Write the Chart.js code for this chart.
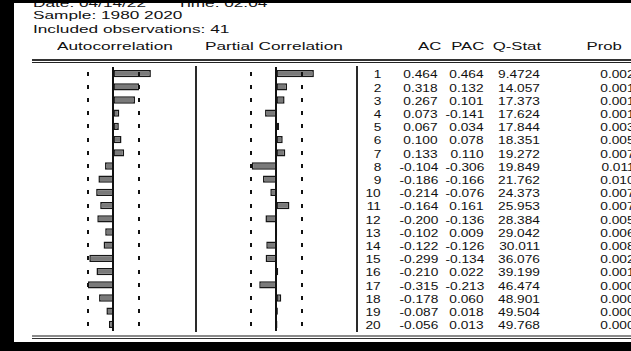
<!DOCTYPE html>
<html>
<head>
<meta charset="utf-8">
<script src="https://cdn.jsdelivr.net/npm/chart.js@4/dist/chart.umd.min.js"></script>
<style>
  html, body { margin: 0; padding: 0; }
  body { position: relative; width: 631px; height: 351px; overflow: hidden; background: #fff; }
  .band { position: absolute; background: #000; z-index: 10; }
  .t { position: absolute; white-space: nowrap; font-family: "Liberation Sans", Arial, sans-serif; color: #111; }
  .title { font-size: 11.8px; line-height: 14px; transform: scaleX(1.46); transform-origin: left center; }
  .head { font-size: 11.8px; line-height: 14px; transform: scaleX(1.42); }
  .num { font-size: 11.4px; line-height: 13.2px; transform: scaleX(1.2); transform-origin: right center; }
  .rule { position: absolute; }
  canvas { position: absolute; }
</style>
</head>
<body>
<canvas id="acChart" width="113" height="264" style="left:65px; top:67px;"></canvas>
<canvas id="pacChart" width="113" height="264" style="left:228px; top:67px;"></canvas>
<div id="text"></div>
<script>
// Correlogram: lags, autocorrelations, partial autocorrelations, Q statistics and p-values
const lags = [1, 2, 3, 4, 5, 6, 7, 8, 9, 10, 11, 12, 13, 14, 15, 16, 17, 18, 19, 20];
const ac = [0.464, 0.318, 0.267, 0.073, 0.067, 0.100, 0.133, -0.104, -0.186, -0.214,
            -0.164, -0.200, -0.102, -0.122, -0.299, -0.210, -0.315, -0.178, -0.087, -0.056];
const pac = [0.464, 0.132, 0.101, -0.141, 0.034, 0.078, 0.110, -0.306, -0.166, -0.076,
             0.161, -0.136, 0.009, -0.126, -0.134, 0.022, -0.213, 0.060, 0.018, 0.013];
const qStat = [9.4724, 14.057, 17.373, 17.624, 17.844, 18.351, 19.272, 19.849, 21.762, 24.373,
               25.953, 28.384, 29.042, 30.011, 36.076, 39.199, 46.474, 48.901, 49.504, 49.768];
const prob = [0.002, 0.001, 0.001, 0.001, 0.003, 0.005, 0.007, 0.011, 0.010, 0.007,
              0.007, 0.005, 0.006, 0.008, 0.002, 0.001, 0.000, 0.000, 0.000, 0.000];
const headerLines = ['Sample: 1980 2020', 'Included observations: 41'];
const columnHeads = ['AC', 'PAC', 'Q-Stat', 'Prob'];
const observations = 41;
// approximate 2 standard error band
const bound = 2 / Math.sqrt(observations);

// zero line and dashed confidence marks, placed with the chart's own scales
const guides = {
  id: 'guides',
  afterDatasetsDraw(chart) {
    const { ctx, chartArea, scales: { x, y } } = chart;
    ctx.save();
    ctx.fillStyle = '#111';
    const x0 = Math.round(x.getPixelForValue(0));
    ctx.fillRect(x0 - 1, chartArea.top, 2, chartArea.bottom - chartArea.top);
    for (let i = 0; i < lags.length; i++) {
      const yc = y.getPixelForValue(i);
      for (const b of [-bound, bound]) {
        const xb = Math.round(x.getPixelForValue(b));
        ctx.fillRect(xb - 1, Math.round(yc - 2), 2, 4);
      }
    }
    ctx.restore();
  }
};

function barChart(id, values) {
  return new Chart(document.getElementById(id), {
    type: 'bar',
    data: {
      labels: lags,
      datasets: [{
        data: values,
        backgroundColor: '#7a7a7a',
        borderColor: '#161616',
        borderWidth: 1.5,
        borderSkipped: false,
        barPercentage: 0.55,
        categoryPercentage: 1
      }]
    },
    options: {
      indexAxis: 'y',
      responsive: false,
      animation: false,
      devicePixelRatio: 1,
      layout: { padding: 0 },
      plugins: { legend: { display: false }, tooltip: { enabled: false } },
      scales: {
        x: { type: 'linear', min: -0.6, max: 0.8, display: false },
        y: { display: false }
      }
    },
    plugins: [guides]
  });
}

barChart('acChart', ac);
barChart('pacChart', pac);

// text and rules of the table
const host = document.getElementById('text');
function el(cls, text, style) {
  const d = document.createElement('div');
  d.className = cls;
  if (text !== null) d.textContent = text;
  Object.assign(d.style, style);
  host.appendChild(d);
  return d;
}

el('t title', 'Date: 04/14/22', { left: '33px', top: '-4px' });
el('t title', 'Time: 02:04', { left: '177px', top: '-4px' });
el('t title', headerLines[0], { left: '33px', top: '8px' });
el('t title', headerLines[1], { left: '33px', top: '22px' });
el('t title', 'Autocorrelation', { left: '57px', top: '39px' });
el('t title', 'Partial Correlation', { left: '205px', top: '39px' });

const headRight = [441, 484, 541, 622];
columnHeads.forEach((h, k) => {
  el('t head', h, { right: (631 - headRight[k]) + 'px', top: '39px', transformOrigin: 'right center' });
});

// double rules above and below the table
el('rule', null, { left: '32px', top: '59px', width: '599px', height: '1.5px', background: '#333' });
el('rule', null, { left: '32px', top: '62px', width: '599px', height: '1px', background: '#222' });
el('rule', null, { left: '32px', top: '335px', width: '599px', height: '2px', background: '#8a8a8a' });
el('rule', null, { left: '32px', top: '338px', width: '599px', height: '1px', background: '#333' });
// column separators
el('rule', null, { left: '195px', top: '66px', width: '2px', height: '266px', background: '#2a2a2a' });
el('rule', null, { left: '356px', top: '66px', width: '2px', height: '266px', background: '#2a2a2a' });

const colRight = [381, 438, 484, 540, 635];
lags.forEach((lag, i) => {
  const top = (68.4 + 13.2 * i) + 'px';
  const cells = [
    String(lag),
    ac[i].toFixed(3),
    pac[i].toFixed(3),
    qStat[i] < 10 ? qStat[i].toFixed(4) : qStat[i].toFixed(3),
    prob[i].toFixed(3)
  ];
  cells.forEach((c, k) => {
    el('t num', c, { right: (631 - colRight[k]) + 'px', top });
  });
});

// dark frame around the sheet
el('band', null, { left: '0px', top: '0px', width: '14px', height: '351px' });
el('band', null, { left: '0px', top: '0px', width: '631px', height: '3px' });
el('band', null, { left: '0px', top: '342px', width: '631px', height: '9px' });
</script>
</body>
</html>
